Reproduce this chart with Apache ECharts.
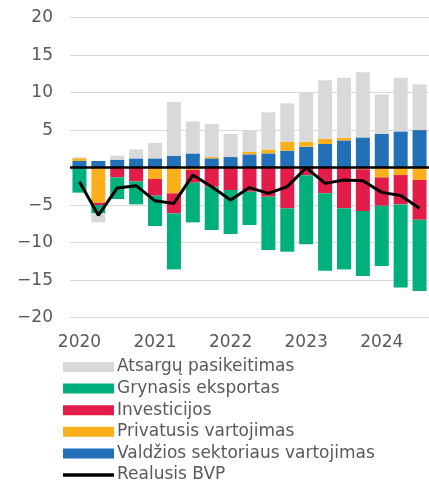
<!DOCTYPE html>
<html>
<head>
<meta charset="utf-8">
<script src="https://cdn.jsdelivr.net/npm/echarts@6/dist/echarts.min.js"></script>
<style>
  html, body { margin: 0; padding: 0; background: #fff; }
  #chart { width: 429px; height: 483px; }
</style>
</head>
<body>
<div id="chart"></div>
<script>
// ketvirčiai 2020 Q1 – 2024 Q3
const quarters = [
  "2020 Q1", "2020 Q2", "2020 Q3", "2020 Q4",
  "2021 Q1", "2021 Q2", "2021 Q3", "2021 Q4",
  "2022 Q1", "2022 Q2", "2022 Q3", "2022 Q4",
  "2023 Q1", "2023 Q2", "2023 Q3", "2023 Q4",
  "2024 Q1", "2024 Q2", "2024 Q3"
];

// indėliai, p.p.
const valdzios = [0.9, 0.9, 1.07, 1.24, 1.24, 1.6, 1.9, 1.24, 1.42, 1.78, 1.91, 2.27, 2.8, 3.16, 3.64, 4.04, 4.49, 4.84, 5.02];
const privatusis = [0.35, -4.67, 0, 0, -1.51, -3.42, -0.3, 0.18, 0, 0.31, 0.53, 1.2, 0.67, 0.67, 0.36, -0.2, -1.3, -0.98, -1.64];
const investicijos = [0, -0.31, -1.29, -1.82, -2.22, -2.67, -1.7, -2.53, -2.98, -3.2, -3.87, -5.42, -1.0, -3.4, -5.42, -5.58, -3.77, -3.91, -5.3];
const grynasis = [-3.33, -1.11, -2.89, -3.07, -4.05, -7.47, -5.29, -5.78, -5.86, -4.44, -7.11, -5.78, -9.2, -10.35, -8.14, -8.66, -8.04, -11.07, -9.5];
const atsargu = [0.15, -1.2, 0.53, 1.2, 2.05, 7.16, 4.27, 4.4, 3.07, 2.89, 4.94, 5.11, 6.57, 7.82, 8.0, 8.67, 5.29, 7.16, 6.09];
const bvp = [-1.87, -6.35, -2.7, -2.4, -4.42, -4.76, -0.98, -2.55, -4.3, -2.65, -3.42, -2.53, 0.0, -2.09, -1.64, -1.73, -3.29, -3.7, -5.42];

const yTicks = [-20, -15, -10, -5, 0, 5, 10, 15, 20];

const txt = "#595959";
const font = "DejaVu Sans";

const chart = echarts.init(document.getElementById("chart"));

function barSeries(name, data, color) {
  return {
    name,
    type: "bar",
    stack: "bvp",
    barWidth: 14,
    data,
    itemStyle: { color },
  };
}

chart.setOption({
  animation: false,
  textStyle: { fontFamily: font },
  grid: { left: 70, right: 0, top: 17.7, bottom: 165.3 },
  legend: {
    orient: "vertical",
    left: 63,
    top: 358.5,
    height: 160,
    padding: 0,
    itemWidth: 51,
    itemHeight: 10,
    itemGap: 4.6,
    symbolKeepAspect: true,
    textStyle: { fontSize: 17, color: txt, fontFamily: font, lineHeight: 17, padding: [0, 0, 0, -2] },
    data: [
      { name: "Atsargų pasikeitimas", icon: "rect" },
      { name: "Grynasis eksportas", icon: "rect" },
      { name: "Investicijos", icon: "rect" },
      { name: "Privatusis vartojimas", icon: "rect" },
      { name: "Valdžios sektoriaus vartojimas", icon: "rect" },
      { name: "Realusis BVP", icon: "path://M0,0H51V3.5H0Z", itemStyle: { color: "#000" } },
    ],
  },
  xAxis: {
    type: "category",
    data: quarters,
    axisLine: { show: false, onZero: false },
    axisTick: { show: false },
    splitLine: { show: false },
    axisLabel: {
      interval: 3,
      margin: 16,
      fontSize: 17,
      color: txt,
      formatter: (v) => v.slice(0, 4),
    },
  },
  yAxis: {
    type: "value",
    min: yTicks[0],
    max: yTicks[yTicks.length - 1],
    interval: 5,
    axisLine: { show: false },
    axisTick: { show: false },
    splitLine: { lineStyle: { color: "#d9d9d9", width: 1 } },
    axisLabel: {
      margin: 17,
      fontSize: 17,
      color: txt,
      formatter: (v) => (v === 0 ? "" : String(v).replace("-", "\u2212")),
    },
  },
  series: [
    barSeries("Valdžios sektoriaus vartojimas", valdzios, "#2271b8"),
    barSeries("Privatusis vartojimas", privatusis, "#fbb01b"),
    barSeries("Investicijos", investicijos, "#e31d49"),
    barSeries("Grynasis eksportas", grynasis, "#00b07c"),
    barSeries("Atsargų pasikeitimas", atsargu, "#d9d9d9"),
    {
      name: "Realusis BVP",
      type: "line",
      data: bvp,
      symbol: "none",
      z: 5,
      lineStyle: { color: "#000", width: 3 },
      itemStyle: { color: "#000" },
      markLine: {
        silent: true,
        symbol: "none",
        label: { show: false },
        lineStyle: { color: "#000", width: 2.5, type: "solid" },
        data: [{ yAxis: 0 }],
      },
    },
  ],
});
</script>
</body>
</html>
